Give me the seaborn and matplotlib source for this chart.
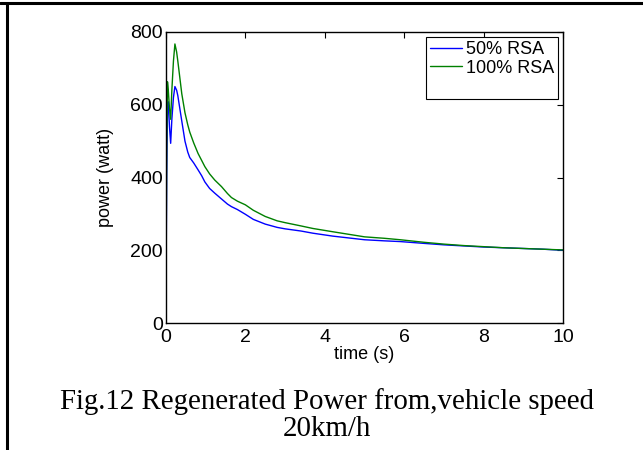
import matplotlib
matplotlib.use("Agg")
import matplotlib.pyplot as plt
from matplotlib.lines import Line2D
import seaborn as sns
import pandas as pd

# ---- data ----
time_s = [0, 0.02, 0.04, 0.06, 0.09, 0.12, 0.15, 0.19, 0.227, 0.27, 0.3, 0.35,
          0.4, 0.48, 0.55, 0.6, 0.7, 0.81, 0.9, 0.98, 1.1, 1.23, 1.4, 1.55,
          1.65, 1.8, 2.0, 2.2, 2.5, 2.8, 3.0, 3.4, 3.7, 4.2, 4.6, 5.0, 5.5,
          5.9, 6.5, 7.0, 7.5, 8.0, 8.5, 9.0, 9.5, 10.0]
power_50 = [45, 400, 590, 608, 540, 494, 560, 620, 650, 640, 625, 590,
            555, 500, 470, 455, 440, 421, 405, 388, 370, 357, 341, 327,
            320, 312, 299, 285, 272, 263, 259, 253, 247, 239, 234, 229, 226,
            224, 219, 215, 212, 209, 207, 205, 203, 200]
power_100 = [30, 500, 663, 640, 590, 560, 640, 720, 767, 745, 720, 675,
             630, 578, 545, 525, 495, 466, 447, 430, 410, 393, 375, 356,
             345, 335, 325, 310, 293, 281, 276, 267, 260, 251, 244, 237, 233,
             229, 222, 217, 213, 210, 207, 205, 203, 201]
series_labels = ["50% RSA", "100% RSA"]
x_ticks = [0, 2, 4, 6, 8, 10]
y_ticks = [0, 200, 400, 600, 800]
caption = "Fig.12 Regenerated Power from,vehicle speed\n20km/h"

df = pd.concat([
    pd.DataFrame({"time": time_s, "power": power_50, "series": series_labels[0]}),
    pd.DataFrame({"time": time_s, "power": power_100, "series": series_labels[1]}),
])

sns.set_style("white")
plt.rcParams["font.family"] = ["Liberation Sans", "DejaVu Sans"]
plt.rcParams["text.color"] = "black"
plt.rcParams["axes.labelcolor"] = "black"
plt.rcParams["xtick.color"] = "black"
plt.rcParams["ytick.color"] = "black"

fig = plt.figure(figsize=(6.43, 4.5), dpi=100)
ax = fig.add_axes([0.258, 0.282, 0.618, 0.647])

sns.lineplot(data=df, x="time", y="power", hue="series",
             palette={series_labels[0]: "#0000ff", series_labels[1]: "#008000"},
             linewidth=1.0, ax=ax, legend=False, sort=False)

ax.set_xlim(0, 10)
ax.set_ylim(0, 800)
ax.set_xticks(x_ticks)
ax.set_yticks(y_ticks)
ax.tick_params(direction="in", length=4, width=0.8, top=True, right=True,
               labelsize=14, colors="black")
ax.tick_params(axis="x", pad=4)
ax.tick_params(axis="y", pad=2)
for s in ax.spines.values():
    s.set_visible(True)
    s.set_color("black")
    s.set_linewidth(1.0)

ax.set_xlabel("time (s)", fontsize=13, labelpad=0, color="black")
ax.set_ylabel("power (watt)", fontsize=13, labelpad=12, color="black")

handles = [Line2D([], [], color="#0000ff", lw=1.0),
           Line2D([], [], color="#008000", lw=1.0),
           Line2D([], [], color="none", lw=0)]
leg = ax.legend(handles, series_labels + [" "], loc="upper right",
                fontsize=13, frameon=True, fancybox=False, framealpha=1,
                edgecolor="black", handlelength=1.8, handletextpad=0.2,
                borderpad=0.2, labelspacing=0.1, borderaxespad=0.3)
leg.get_frame().set_linewidth(0.8)
for t in leg.get_texts():
    t.set_color("black")

fig.text(0.509, 0.078, caption, ha="center", va="center", color="black",
         family=["Liberation Serif", "DejaVu Serif"], fontsize=20.8,
         linespacing=1.08)

# page frame lines (top and left)
fig.add_artist(Line2D([0, 1], [0.993, 0.993], transform=fig.transFigure,
                      color="black", lw=2.2))
fig.add_artist(Line2D([0.011, 0.011], [0, 0.993], transform=fig.transFigure,
                      color="black", lw=2.2))

fig.savefig("out.png", dpi=100, facecolor="white")
